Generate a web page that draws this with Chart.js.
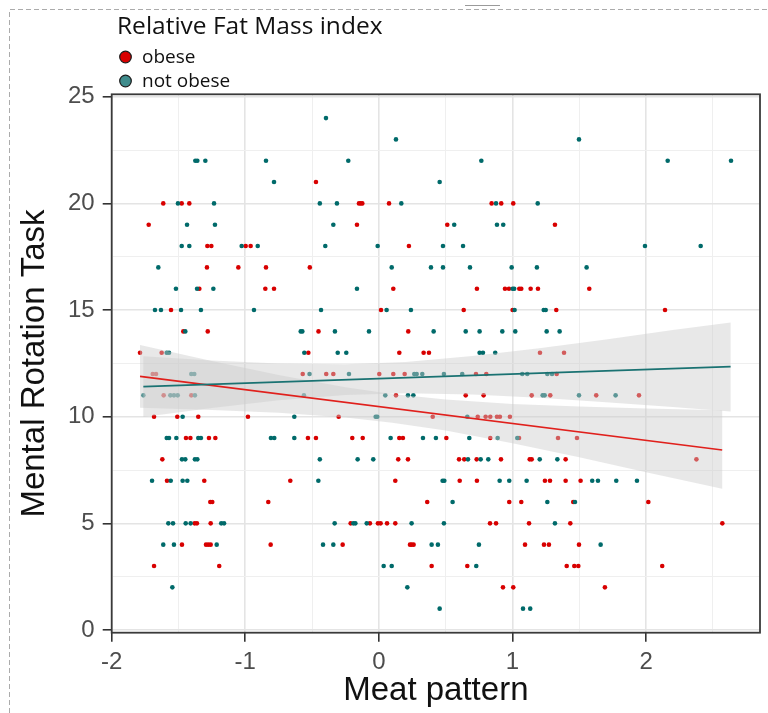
<!DOCTYPE html>
<html>
<head>
<meta charset="utf-8">
<script src="https://cdn.jsdelivr.net/npm/chart.js@4"></script>
<style>
html,body{margin:0;padding:0;background:#fff;}
#wrap{position:relative;width:768px;height:713px;}
</style>
</head>
<body>
<div id="wrap"><canvas id="c"></canvas></div>
<script>
// ---- data ----
const scoreValues = [24,23,22,21,20,19,18,17,16,15,14,13,12,11,10,9,8,7,6,5,4,3,2,1];

// Meat pattern values of the "obese" group, one row per Mental Rotation Task score above
const obeseMeat = [
  [],
  [],
  [],
  [-0.471],
  [-1.614,-1.476,-1.419,-0.149,-0.136,-0.124,0.076,0.844,0.916,1.006],
  [-1.723,-0.164,0.512,1.318],
  [-1.284,-1.254,-0.997,-0.960,0.225],
  [-1.287,-1.052,-0.845,-0.517],
  [-1.344,-0.850,-0.785,0.108,0.734,0.944,0.974,1.051,1.066,1.136,1.191,1.575],
  [-1.556,0.016,0.635,1.001,1.328,2.142],
  [-1.464,-1.281,-0.452,0.220],
  [-1.788,-1.626,-0.528,0.153,0.335,0.375,1.206,1.386],
  [-1.693,-1.668,-0.570,-0.394,-0.341,0.003,0.108,0.193,0.727,0.804,1.331],
  [-1.611,-1.404,0.128,0.650,0.784,1.144,1.283,1.627,1.947],
  [-1.683,-1.509,-1.352,-0.980,-0.301,0.403,0.740,0.799,0.834,0.884,0.906,0.981],
  [-1.444,-1.411,-1.272,-1.224,-0.531,-0.471,-0.199,-0.121,0.153,0.180,0.505,0.834,1.049,1.341,1.483],
  [-1.621,0.145,0.218,0.600,0.639,0.732,0.914,1.129,1.144,1.398,2.377],
  [-1.586,-1.307,-0.663,0.123,0.605,0.734,1.243,1.281,1.398,1.510],
  [-1.262,-1.247,-0.828,0.362,0.976,1.066,1.455,2.017],
  [-1.379,-1.362,-1.259,-0.211,-0.067,-0.007,0.013,0.061,0.123,0.832,0.877,1.124,1.433,2.571],
  [-1.474,-1.294,-1.277,-1.259,-0.810,-0.271,0.233,0.245,0.260,1.094,1.236,1.273,1.498],
  [-1.683,-1.195,0.395,0.662,1.406,1.463,1.493,2.121],
  [0.929,1.006,1.692],
  []
];

// Meat pattern values of the "not obese" group, one row per score
const notObeseMeat = [
  [-0.396],
  [0.128,1.498],
  [-1.374,-1.359,-1.299,-0.845,-0.229,0.767,2.162,2.636],
  [-0.785,0.455],
  [-1.504,-1.234,-0.442,-0.314,0.168,0.877,1.189],
  [-1.436,-1.227,-0.341,0.564,0.884,0.931],
  [-1.476,-1.419,-1.027,-0.907,-0.401,-0.009,0.480,0.630,1.992,2.409],
  [-1.651,0.096,0.390,0.480,0.682,0.994,1.183,1.555],
  [-1.519,-1.361,-1.239,-0.164,1.001,1.013],
  [-1.676,-1.631,-1.481,-1.332,-0.935,-0.433,0.058,0.240,1.016,1.234,1.249],
  [-1.449,-0.585,-0.573,-0.329,-0.074,0.410,0.650,0.754,0.924,1.021,1.256,1.353],
  [-1.588,-1.571,-0.558,-0.308,-0.244,0.754,0.779,0.871],
  [-1.404,-1.382,-0.519,-0.224,0.265,0.283,0.325,0.487,0.624,1.073,1.111,1.261,1.296],
  [-1.763,-1.561,-1.534,-1.506,-1.377,-0.561,0.048,0.218,0.258,1.226,1.241,1.498,1.772],
  [-1.469,-0.633,-0.024,-0.012,0.662],
  [-1.588,-1.571,-1.516,-1.352,-1.332,-0.808,-0.783,-0.633,0.088,0.330,0.427,0.677,0.889,1.036],
  [-1.474,-1.449,-1.377,-1.359,-0.442,-0.159,-0.042,0.667,0.762,0.819,1.204,1.336],
  [-1.698,-1.558,-1.469,-1.434,-0.453,0.477,0.490,0.904,0.976,1.106,1.597,1.640,1.777,1.932],
  [0.552,1.261,1.468],
  [-1.576,-1.541,-1.446,-1.409,-1.180,-1.159,-0.331,-0.191,-0.176,-0.091,0.245,0.487,1.318],
  [-1.614,-1.534,-1.214,-0.418,-0.341,0.395,0.442,0.749,1.660],
  [0.036,0.096,0.729],
  [-1.546,0.213],
  [0.455,1.079,1.133]
];

// Linear fits and their confidence bands
const obeseFitX = [-1.788, 2.57];
const obeseFitY = [11.89, 8.44];
const obeseBandX = [-1.788,-1.25,-0.75,-0.25,0.1,0.5,1.0,1.5,2.0,2.57];
const obeseBandUpper = [13.36,12.61,11.96,11.38,11.06,10.81,10.60,10.48,10.38,10.30];
const obeseBandLower = [10.42,10.31,10.18,9.96,9.72,9.35,8.76,8.10,7.40,6.62];

const notObeseFitX = [-1.763, 2.633];
const notObeseFitY = [11.41, 12.35];
const notObeseBandX = [-1.763,-1.25,-0.75,-0.25,0.2,0.7,1.2,1.7,2.2,2.633];
const notObeseBandUpper = [12.83,12.63,12.49,12.46,12.56,12.84,13.21,13.62,14.06,14.42];
const notObeseBandLower = [9.99,10.41,10.77,11.02,11.10,11.04,10.89,10.68,10.46,10.24];

// Axis ticks
const xMajorTicks = [-2,-1,0,1,2];
const xMinorTicks = [-1.5,-0.5,0.5,1.5,2.5];
const yMajorTicks = [0,5,10,15,20,25];
const yMinorTicks = [2.5,7.5,12.5,17.5,22.5];

const groupLabels = ['obese','not obese'];
const legendTitle = 'Relative Fat Mass index';
const xTitle = 'Meat pattern';
const yTitle = 'Mental Rotation Task';

// ---- styling ----
const RED = '#d80000';
const TEAL = '#006a6a';
const RED_LINE = '#e0201c';
const TEAL_LINE = '#1a7272';
const BAND = 'rgba(205,205,205,0.45)';
const FONT = "'Liberation Sans', Arial, sans-serif";

function toPoints(rows){
  const out = [];
  rows.forEach((xs,i)=>xs.forEach(x=>out.push({x:x, y:scoreValues[i]})));
  return out;
}
function toLine(xs, ys){ return xs.map((x,i)=>({x:x, y:ys[i]})); }
function toBand(xs, up, lo){
  const top = xs.map((x,i)=>({x:x, y:up[i]}));
  const bottom = xs.map((x,i)=>({x:x, y:lo[i]})).reverse();
  return top.concat(bottom);
}
const isMajor = (list, v) => list.some(t => Math.abs(t - v) < 1e-9);

const deco = {
  id: 'deco',
  beforeDraw(chart){
    const ctx = chart.ctx;
    ctx.save();
    ctx.fillStyle = '#fff';
    ctx.fillRect(0,0,chart.width,chart.height);
    ctx.strokeStyle = '#ababab';
    ctx.lineWidth = 1;
    ctx.setLineDash([5,3]);
    ctx.beginPath();
    ctx.moveTo(9.5, chart.height);
    ctx.lineTo(9.5, 9.5);
    ctx.lineTo(chart.width, 9.5);
    ctx.stroke();
    ctx.setLineDash([]);
    ctx.strokeStyle = '#9a9a9a';
    ctx.beginPath();
    ctx.moveTo(465, 5.5);
    ctx.lineTo(500, 5.5);
    ctx.stroke();
    ctx.restore();
  },
  afterDraw(chart){
    const ctx = chart.ctx;
    const a = chart.chartArea;
    ctx.save();
    ctx.strokeStyle = '#3a3a3a';
    ctx.lineWidth = 1.8;
    ctx.strokeRect(a.left, a.top, a.right - a.left, a.bottom - a.top);
    // legend
    ctx.fillStyle = '#111';
    ctx.textBaseline = 'alphabetic';
    ctx.textAlign = 'left';
    ctx.font = "24.5px 'Open Sans', sans-serif";
    ctx.fillText(legendTitle, 117, 34);
    ctx.font = "19px 'Open Sans', sans-serif";
    const keys = [{c: RED, y: 57}, {c: '#3f8c8c', y: 81}];
    keys.forEach((k,i)=>{
      ctx.beginPath();
      ctx.arc(125.5, k.y, 5.8, 0, Math.PI*2);
      ctx.fillStyle = k.c;
      ctx.fill();
      ctx.lineWidth = 1.2;
      ctx.strokeStyle = '#1a1a1a';
      ctx.stroke();
      ctx.fillStyle = '#111';
      ctx.fillText(groupLabels[i], 142, k.y + 6);
    });
    ctx.restore();
  }
};

const gridOpts = (majors) => ({
  color: c => isMajor(majors, c.tick.value) ? '#e4e4e4' : '#efefef',
  lineWidth: c => isMajor(majors, c.tick.value) ? 1.6 : 1,
  tickColor: c => isMajor(majors, c.tick.value) ? '#333333' : 'rgba(0,0,0,0)',
  tickWidth: 1.6,
  tickLength: 9,
  drawTicks: true,
  drawOnChartArea: true
});

new Chart(document.getElementById('c'), {
  type: 'scatter',
  data: {
    datasets: [
      { label: groupLabels[0], data: toPoints(obeseMeat), backgroundColor: RED, borderWidth: 0, pointRadius: 2.3, order: 10 },
      { label: groupLabels[1], data: toPoints(notObeseMeat), backgroundColor: TEAL, borderWidth: 0, pointRadius: 2.3, order: 9 },
      { label: 'obese band', data: toBand(obeseBandX, obeseBandUpper, obeseBandLower), showLine: true, fill: 'shape', backgroundColor: BAND, borderWidth: 0, borderColor: 'rgba(0,0,0,0)', pointRadius: 0, tension: 0, order: 6 },
      { label: 'not obese band', data: toBand(notObeseBandX, notObeseBandUpper, notObeseBandLower), showLine: true, fill: 'shape', backgroundColor: BAND, borderWidth: 0, borderColor: 'rgba(0,0,0,0)', pointRadius: 0, tension: 0, order: 5 },
      { label: 'obese fit', data: toLine(obeseFitX, obeseFitY), showLine: true, borderColor: RED_LINE, borderWidth: 1.7, pointRadius: 0, fill: false, order: 2 },
      { label: 'not obese fit', data: toLine(notObeseFitX, notObeseFitY), showLine: true, borderColor: TEAL_LINE, borderWidth: 1.7, pointRadius: 0, fill: false, order: 1 }
    ]
  },
  options: {
    responsive: true,
    maintainAspectRatio: false,
    animation: false,
    events: [],
    layout: { padding: { top: 94.3, right: 8, left: 0, bottom: 0 } },
    plugins: { legend: { display: false }, tooltip: { enabled: false }, title: { display: false } },
    scales: {
      x: {
        type: 'linear', position: 'bottom', min: -2.0, max: 2.853,
        afterBuildTicks: s => { s.ticks = xMajorTicks.concat(xMinorTicks).sort((a,b)=>a-b).map(v=>({value:v})); },
        afterFit: s => { s.height = 80.3; },
        ticks: { autoSkip: false, maxRotation: 0, padding: 6, color: '#4d4d4d', font: { family: FONT, size: 24 },
                 callback: v => isMajor(xMajorTicks, v) ? String(v) : '' },
        grid: gridOpts(xMajorTicks),
        border: { display: false },
        title: { display: true, text: xTitle, color: '#111', font: { family: FONT, size: 33 }, padding: { top: 0, bottom: 2 } }
      },
      y: {
        type: 'linear', position: 'left', min: -0.127, max: 25.115,
        afterBuildTicks: s => { s.ticks = yMajorTicks.concat(yMinorTicks).sort((a,b)=>a-b).map(v=>({value:v})); },
        afterFit: s => { s.width = 111.7; },
        ticks: { autoSkip: false, padding: 8, color: '#4d4d4d', font: { family: FONT, size: 24 },
                 callback: v => isMajor(yMajorTicks, v) ? String(v) : '' },
        grid: gridOpts(yMajorTicks),
        border: { display: false },
        title: { display: true, text: yTitle, color: '#111', font: { family: FONT, size: 33 }, padding: { top: 15, bottom: 0 } }
      }
    }
  },
  plugins: [deco]
});
</script>
</body>
</html>
